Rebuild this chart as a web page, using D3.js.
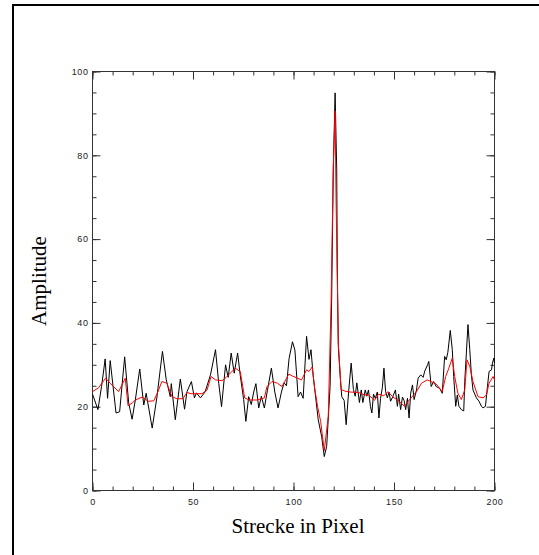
<!DOCTYPE html>
<html>
<head>
<meta charset="utf-8">
<script src="https://cdn.jsdelivr.net/npm/d3@7"></script>
<style>
  html, body { margin: 0; padding: 0; background: #fff; }
  svg { display: block; }
</style>
</head>
<body>
<svg id="chart" width="539" height="555"></svg>
<script>
// Raw amplitude profile (turning points along the pixel line)
const rawX = [0, 2.7, 4.5, 6.3, 7.5, 8.8, 11.7, 13.5, 16, 18, 19.7, 21.3, 23.5, 25.5, 26.7, 29.7, 32,
  34.8, 36.7, 38.7, 39.2, 41.2, 43.7, 45.8, 47, 49.2, 50.7, 51.7, 53.7, 56, 58.7, 61.2, 62.8, 64.2,
  66.2, 67.5, 69, 70.5, 72.2, 73.5, 75.2, 76.3, 77.7, 79, 80.2, 81.3, 82.7, 84, 85.5, 87, 89, 90.7,
  92.3, 94, 95.3, 96.5, 97.8, 99.5, 100.7, 102.3, 103.5, 104.8, 106.5, 107.7, 108.7, 109.8, 112.3,
  114, 115.3, 116.5, 118.2, 119, 119.8, 120.7, 121.5, 121.8, 122.3, 123.2, 124, 125.2, 126.2, 127.5,
  128.7, 129.8, 130.7, 131.5, 132.8, 133.7, 134.5, 135.7, 136.5, 137.3, 138.3, 139, 139.8, 140.7,
  141.7, 142.5, 143.3, 144.2, 145, 145.8, 146.7, 147.5, 148.3, 149.5, 150.7, 151.7, 152.3, 153.3,
  154.2, 155, 155.8, 156.7, 157.5, 158.3, 159.2, 160, 161.2, 162, 163.3, 164.5, 165.3, 166.7, 167.3,
  168.5, 169.7, 171, 172.7, 174, 175.2, 176, 176.8, 178, 179, 179.7, 180.7, 181.5, 182.3, 183.5,
  184.7, 185.2, 186, 186.8, 187.7, 188.5, 189.3, 191, 192.3, 193.5, 194.3, 195.5, 196.5, 197.3,
  198.5, 199, 199.7, 200];
const rawY = [23.0, 19.3, 24.8, 31.4, 22.0, 31.0, 18.5, 18.8, 31.9, 20.9, 17.0, 21.6, 29.0, 20.4, 23.2, 14.9, 22.1,
  33.2, 26.4, 22.4, 25.5, 16.9, 26.6, 19.4, 23.6, 26.0, 22.1, 23.3, 22.1, 23.5, 27.6, 33.6, 25.6, 20.0,
  30.0, 27.0, 32.8, 28.0, 32.8, 27.5, 21.7, 16.5, 22.4, 20.5, 23.5, 25.5, 19.7, 22.5, 19.7, 23.8, 29.2, 23.5,
  19.7, 23.5, 25.7, 25.0, 31.5, 35.5, 33.5, 22.4, 23.5, 22.0, 36.8, 31.3, 33.6, 27.4, 16.9,
  12.9, 8.1, 10.5, 24.8, 46.4, 76.7, 94.9, 76.7, 52.7, 34.4, 27.4, 22.4, 21.5, 15.7, 24.0,
  30.4, 24.1, 22.5, 25.7, 21.0, 24.0, 21.0, 24.0, 22.5, 24.0, 20.0, 18.5, 23.0, 22.0,
  23.5, 17.3, 22.0, 24.5, 29.2, 23.7, 22.1, 23.5, 21.3, 22.5, 24.0, 20.1, 23.0, 19.3,
  22.3, 21.5, 19.3, 22.0, 17.3, 23.2, 25.2, 21.7, 24.0, 26.8, 27.6, 27.0, 28.5, 30.0, 30.8,
  24.8, 26.0, 24.8, 24.4, 23.2, 32.0, 31.2, 33.0, 38.2, 33.6, 27.2, 20.1, 22.8, 20.1, 19.3,
  19.0, 26.0, 32.8, 39.6, 33.6, 27.6, 24.0, 22.1, 21.3, 20.1, 19.7, 20.1, 24.8, 28.4,
  28.8, 30.4, 31.6, 30.4];

// Smoothed amplitude profile
const smoothX = [0, 3, 6.5, 9, 13, 16.3, 17.7, 20, 21.3, 24.7, 27.7, 30.5, 32.5, 34.5, 37, 39.5, 42, 45,
  47, 49, 54.5, 57, 59, 61.2, 64.5, 66.5, 71, 73.5, 75.7, 78, 82, 85.5, 86.8, 89.3, 92, 94.3, 97.7,
  99.5, 102, 104, 106.5, 107.7, 109.3, 110.5, 112, 113.5, 115.3, 117.3, 118.7, 119.8, 120.7, 121.2,
  122.3, 123.7, 125.7, 128.2, 132.3, 135.3, 137.3, 139.8, 140.3, 142.3, 145, 147, 149.5, 152, 155.3,
  157.8, 161.2, 163.7, 166.5, 168.5, 171, 174, 175.7, 177.3, 179, 180.2, 181.8, 183.5, 185.2, 186.3,
  187.7, 189.3, 191.8, 194.3, 196, 197.3, 199.3, 200];
const smoothY = [23.6, 24.5, 26.8, 25.5, 23.6, 26.8, 20.2, 21.0, 21.6, 22.3, 21.3, 21.4, 23.5, 26.0, 25.6, 22.4, 21.9, 21.9,
  23.4, 23.1, 23.1, 24.0, 27.2, 26.4, 26.2, 27.0, 29.2, 28.4, 22.1, 21.6, 21.6, 22.1, 24.8, 26.0, 25.6, 24.8, 27.8,
  27.3, 26.8, 26.4, 28.8, 28.4, 29.5, 24.5, 20.0, 16.5, 9.5, 17.7, 44.8, 77.5, 90.6, 68.6,
  35.2, 24.1, 23.7, 23.5, 23.4, 22.8, 22.8, 21.8, 21.5, 23.0, 22.6, 23.6, 22.3, 21.5, 20.1,
  21.7, 23.6, 25.6, 26.4, 26.0, 25.4, 23.6, 27.2, 29.2, 31.6, 27.2, 23.2, 21.7, 24.0, 31.2,
  29.6, 26.0, 22.4, 22.1, 22.8, 25.6, 27.2, 26.4];

const xMajor = [0, 50, 100, 150, 200];
const yMajor = [0, 20, 40, 60, 80, 100];

const svg = d3.select("#chart");
const W = 539, H = 555;
const plotL = 92.5, plotR = 494.5, plotT = 71.5, plotB = 490.5;

// Outer frame (left and top edges)
svg.append("path")
  .attr("d", `M13,${H} L13,5 L${W},5`)
  .attr("fill", "none").attr("stroke", "#000").attr("stroke-width", 2);

const x = d3.scaleLinear().domain([0, 200]).range([plotL, plotR]);
const y = d3.scaleLinear().domain([0, 100]).range([plotB, plotT]);

const axisColor = "#333";
const xMinor = d3.range(0, 201, 10);
const yMinor = d3.range(0, 101, 5);

function styleAxis(g) {
  g.select(".domain").remove();
  g.selectAll(".tick line").attr("stroke", axisColor);
  g.selectAll(".tick text")
    .attr("fill", "#222")
    .style("font-family", "'Liberation Sans', Arial, sans-serif")
    .style("font-size", "9px")
    .style("letter-spacing", "0.6px");
}

// Minor ticks on all four sides
svg.append("g").attr("transform", `translate(0,${plotB})`)
  .call(d3.axisBottom(x).tickValues(xMinor).tickSize(-4).tickFormat(""))
  .call(styleAxis);
svg.append("g").attr("transform", `translate(0,${plotT})`)
  .call(d3.axisTop(x).tickValues(xMinor).tickSize(-4).tickFormat(""))
  .call(styleAxis);
svg.append("g").attr("transform", `translate(${plotL},0)`)
  .call(d3.axisLeft(y).tickValues(yMinor).tickSize(-4).tickFormat(""))
  .call(styleAxis);
svg.append("g").attr("transform", `translate(${plotR},0)`)
  .call(d3.axisRight(y).tickValues(yMinor).tickSize(-4).tickFormat(""))
  .call(styleAxis);

// Major ticks with labels on bottom and left
svg.append("g").attr("transform", `translate(0,${plotB})`)
  .call(d3.axisBottom(x).tickValues(xMajor).tickSize(-8).tickPadding(8.5).tickFormat(d3.format("d")))
  .call(styleAxis);
svg.append("g").attr("transform", `translate(0,${plotT})`)
  .call(d3.axisTop(x).tickValues(xMajor).tickSize(-8).tickFormat(""))
  .call(styleAxis);
svg.append("g").attr("transform", `translate(${plotL},0)`)
  .call(d3.axisLeft(y).tickValues(yMajor).tickSize(-8).tickPadding(4).tickFormat(d3.format("d")))
  .call(styleAxis);
svg.append("g").attr("transform", `translate(${plotR},0)`)
  .call(d3.axisRight(y).tickValues(yMajor).tickSize(-8).tickFormat(""))
  .call(styleAxis);

// Plot box
svg.append("rect")
  .attr("x", plotL).attr("y", plotT)
  .attr("width", plotR - plotL).attr("height", plotB - plotT)
  .attr("fill", "none").attr("stroke", axisColor).attr("stroke-width", 1);

const line = d3.line().x(d => x(d[0])).y(d => y(d[1]));

svg.append("path")
  .datum(rawX.map((v, i) => [v, rawY[i]]))
  .attr("d", line)
  .attr("fill", "none").attr("stroke", "#000").attr("stroke-width", 1);

svg.append("path")
  .datum(smoothX.map((v, i) => [v, smoothY[i]]))
  .attr("d", line)
  .attr("fill", "none").attr("stroke", "#ff0000").attr("stroke-width", 1);

// Axis titles
svg.append("text")
  .attr("x", 298).attr("y", 533)
  .attr("text-anchor", "middle")
  .style("font-family", "'Liberation Serif', 'Times New Roman', serif")
  .style("font-size", "21px")
  .text("Strecke in Pixel");

svg.append("text")
  .attr("transform", `translate(46,${(plotT + plotB) / 2}) rotate(-90)`)
  .attr("text-anchor", "middle")
  .style("font-family", "'Liberation Serif', 'Times New Roman', serif")
  .style("font-size", "21px")
  .text("Amplitude");
</script>
</body>
</html>
